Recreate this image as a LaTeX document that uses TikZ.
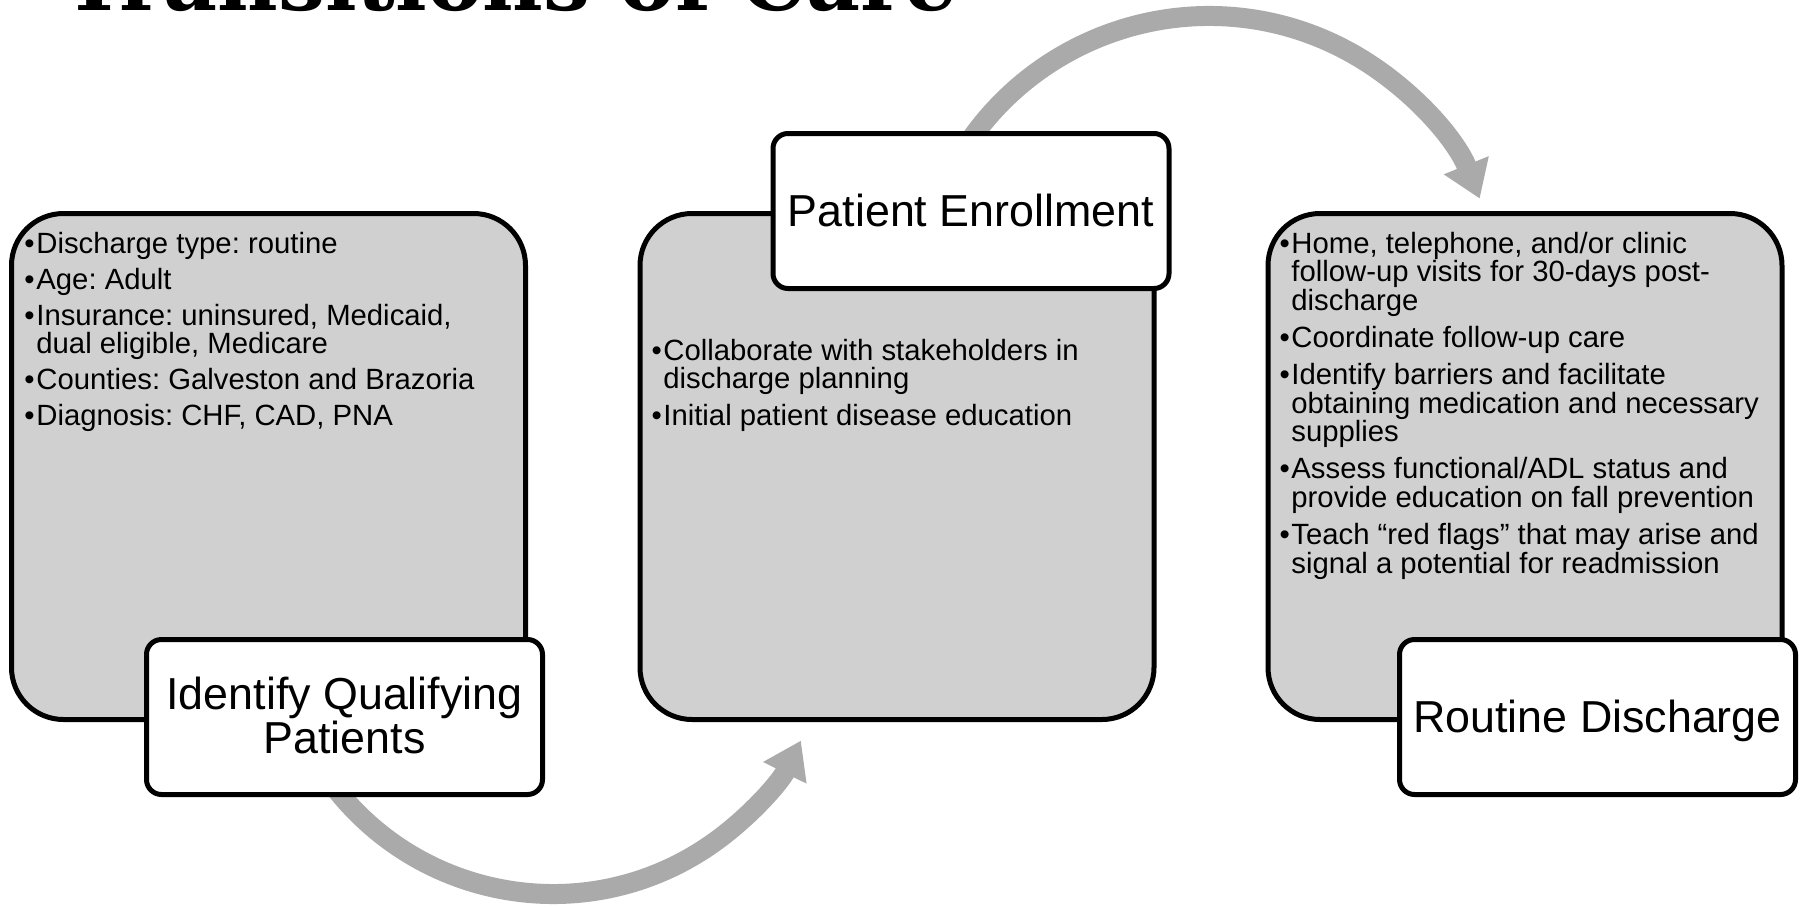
\documentclass[tikz,border=0pt]{standalone}
\usepackage{fontspec}
\usepackage{graphicx}
\setmainfont{Liberation Sans}
\newfontfamily\titlefont{DejaVu Serif}
\usetikzlibrary{arrows.meta}
\definecolor{boxgray}{RGB}{208,208,208}
\definecolor{arrowgray}{RGB}{170,170,170}
\frenchspacing
\newcommand{\bitem}{\par\hangindent=4.75pt\hangafter=1\noindent\makebox[4.75pt][l]{\hspace{-1.2pt}\textbullet}}
\newcommand{\blist}[2]{\parbox[t]{250pt}{\fontsize{14.65pt}{14.25pt}\selectfont\frenchspacing\raggedright\parskip=#1 #2}}
\begin{document}
\begin{tikzpicture}[x=0.5pt,y=0.5pt,
  graybox/.style={draw=black, line width=2.5pt, fill=boxgray, rounded corners=26pt,
    minimum width=257pt, minimum height=253pt, inner sep=0pt},
  labelbox/.style={draw=black, line width=2.5pt, fill=white, rounded corners=7.5pt,
    minimum width=198pt, minimum height=77.5pt, inner sep=0pt,
    font=\fontsize{22.4pt}{22pt}\selectfont},
  flowarrow/.style={draw=arrowgray, line width=10pt, -{Triangle[width=23pt,length=18pt]}},
  bodytext/.style={anchor=base west, inner sep=0pt}]
\useasboundingbox (0,0) rectangle (1805,-906);

% title (cut off by the top edge)
\begin{scope}
\clip (0,0) rectangle (1805,-906);
\node[anchor=base west, inner sep=0pt] (title) at (63,-10)
  {\resizebox{447pt}{!}{\titlefont\bfseries Transitions of Care}};
\end{scope}

% arc arrows
\coordinate (c1) at (553,-617);
\coordinate (c2) at (1209,-308);
\draw[flowarrow] ([shift={(215:277)}]c1) arc[start angle=215, end angle=333.5, radius=277];
\draw[flowarrow] ([shift={(150:292)}]c2) arc[start angle=150, end angle=22, radius=292];

% gray boxes
\node[graybox] (b1) at (268.5,-466.5) {};
\node[graybox] (b2) at (897,-466.5) {};
\node[graybox] (b3) at (1525,-466.5) {};

% labels
\node[labelbox, text height=16pt, text depth=24pt] (l1) at (344.5,-717)
  {\parbox[t]{190pt}{\centering Identify Qualifying\\Patients}};
\node[labelbox, text height=20pt, text depth=5pt] (l2) at (971,-211) {Patient Enrollment};
\node[labelbox, text height=20pt, text depth=5pt] (l3) at (1597.5,-717) {Routine Discharge};

% bullet texts
\node[bodytext] (t1) at (26.5,-253) {\blist{3.75pt}{%
\bitem Discharge type: routine
\bitem Age: Adult
\bitem Insurance: uninsured, Medicaid,\newline dual eligible, Medicare
\bitem Counties: Galveston and Brazoria
\bitem Diagnosis: CHF, CAD, PNA}};

\node[bodytext] (t2) at (653.5,-360) {\blist{4.4pt}{%
\bitem Collaborate with stakeholders in\newline discharge planning
\bitem Initial patient disease education}};

\node[bodytext] (t3) at (1281.5,-253) {\blist{4.4pt}{%
\bitem Home, telephone, and/or clinic\newline follow-up visits for 30-days post-\newline discharge
\bitem Coordinate follow-up care
\bitem Identify barriers and facilitate\newline obtaining medication and necessary\newline supplies
\bitem Assess functional/ADL status and\newline provide education on fall prevention
\bitem Teach “red flags” that may arise and\newline signal a potential for readmission}};
\end{tikzpicture}
\end{document}
